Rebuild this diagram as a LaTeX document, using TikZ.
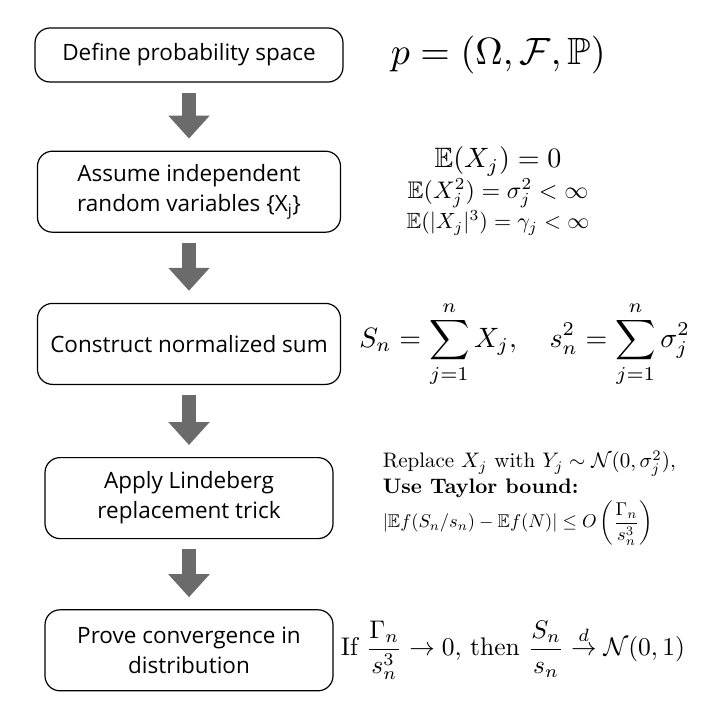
\documentclass[tikz,border=0pt]{standalone}
\usepackage{fontspec}
\usepackage{amsmath,amssymb}
\newfontfamily\boxfont{Open Sans}
\usetikzlibrary{arrows.meta, positioning}
\definecolor{arrowgray}{HTML}{6B6B6B}

\begin{document}
\begin{tikzpicture}[
                x=1pt, y=1pt,
                node distance=70pt,
                stepbox/.style={draw, rounded corners=15pt, line width=1.2pt, align=center, minimum width=303pt, minimum height=81pt, font=\boxfont\fontsize{22.5}{30}\selectfont},
                mathnote/.style={inner sep=0pt, align=center},
                bigarrow/.style={line width=14pt, arrowgray, -{Triangle[width=40pt, length=23pt]}}]

            \useasboundingbox (0,0) rectangle (723,-706);

            % Etapes
            \node[stepbox, minimum width=308pt, minimum height=54pt] (space) at (189,-55) {Define probability space};
            \node[stepbox, below=68pt of space] (indep) {Assume independent\\random variables \{X\textsubscript{j}\}};
            \node[stepbox, below=of indep] (sum) {Construct normalized sum};
            \node[stepbox, minimum width=288pt, below=72pt of sum] (lind) {Apply Lindeberg\\replacement trick};
            \node[stepbox, minimum width=288pt, below=of lind] (conv) {Prove convergence in\\distribution};

            % Fleches
            \draw[bigarrow] ([yshift=-10pt]space.south) -- ([yshift=12pt]indep.north);
            \draw[bigarrow] ([yshift=-10pt]indep.south) -- ([yshift=12pt]sum.north);
            \draw[bigarrow] ([yshift=-10pt]sum.south) -- ([yshift=12pt]lind.north);
            \draw[bigarrow] ([yshift=-10pt]lind.south) -- ([yshift=12pt]conv.north);

            % Formules
            \node[mathnote, right=47pt of space] (peq) {\scalebox{3.8}{$p=(\Omega,\mathcal{F},\mathbb{P})$}};
            \node[mathnote] (moments) at (498,-191) {\scalebox{2.8}{$\mathbb{E}(X_j)=0$}\\[2pt]
                \scalebox{2.4}{$\mathbb{E}(X_j^2)=\sigma_j^2<\infty$}\\[2pt]
                \scalebox{2.2}{$\mathbb{E}(|X_j|^3)=\gamma_j<\infty$}};
            \node[mathnote, right=18pt of sum] (sumeq) {\scalebox{2.8}{$\displaystyle S_n=\sum_{j=1}^{n}X_j,\quad s_n^2=\sum_{j=1}^{n}\sigma_j^2$}};
            \node[mathnote, align=left, right=49pt of lind] (taylor) {\scalebox{2.1}{Replace $X_j$ with $Y_j\sim\mathcal{N}(0,\sigma_j^2)$,}\\[2pt]
                \scalebox{2.1}{\textbf{Use Taylor bound:}}\\[2pt]
                \scalebox{1.85}{$|\mathbb{E}f(S_n/s_n)-\mathbb{E}f(N)|\le O\left(\dfrac{\Gamma_n}{s_n^3}\right)$}};
            \node[mathnote, right=7pt of conv] (limit) {\scalebox{2.55}{If $\dfrac{\Gamma_n}{s_n^3}\to 0,$ then $\dfrac{S_n}{s_n}\stackrel{d}{\to}\mathcal{N}(0,1)$}};

        \end{tikzpicture}
\end{document}
